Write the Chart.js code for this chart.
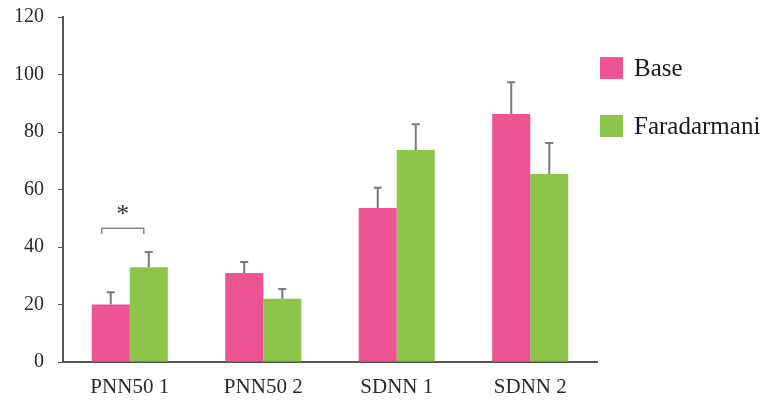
<!DOCTYPE html>
<html>
<head>
<meta charset="utf-8">
<script src="https://cdn.jsdelivr.net/npm/chart.js@4.4.0/dist/chart.umd.min.js"></script>
<style>
  html, body { margin: 0; padding: 0; background: #ffffff; }
  #wrap { position: relative; width: 780px; height: 401px; }
  #legend { position: absolute; left: 600px; top: 54px; font-family: "Liberation Serif", serif; font-size: 25px; color: #1a1a1a; }
  #legend .item { display: flex; align-items: center; height: 28px; margin-bottom: 30px; }
  #legend .box { width: 23px; height: 22px; margin-right: 11px; }
</style>
</head>
<body>
<div id="wrap">
  <canvas id="chart" width="780" height="401"></canvas>
  <div id="legend"></div>
</div>
<script>
// données
const categories = ['PNN50 1', 'PNN50 2', 'SDNN 1', 'SDNN 2'];
const seriesNames = ['Base', 'Faradarmani'];
const baseValues = [20, 31, 53.6, 86.3];
const faradValues = [33, 22, 73.7, 65.4];
const baseErrors = [4.3, 3.8, 7, 11];
const faradErrors = [5.3, 3.4, 9, 10.8];
const yTicks = [0, 20, 40, 60, 80, 100, 120];

const PINK = '#ec5494';
const GREEN = '#8cc54a';

// barres d'erreur (moitié haute seulement)
const errorBars = {
    id: 'errorBars',
    afterDatasetsDraw(chart) {
        const ctx = chart.ctx;
        const y = chart.scales.y;
        const errs = [baseErrors, faradErrors];
        ctx.save();
        ctx.strokeStyle = '#7a7a7a';
        ctx.lineWidth = 2;
        chart.data.datasets.forEach((ds, i) => {
            chart.getDatasetMeta(i).data.forEach((bar, j) => {
                const top = y.getPixelForValue(ds.data[j] + errs[i][j]);
                ctx.beginPath();
                ctx.moveTo(bar.x, bar.y);
                ctx.lineTo(bar.x, top);
                ctx.moveTo(bar.x - 4, top);
                ctx.lineTo(bar.x + 4, top);
                ctx.stroke();
            });
        });
        ctx.restore();
    }
};

// crochet de significativité sur PNN50 1
const significance = {
    id: 'significance',
    afterDatasetsDraw(chart) {
        const ctx = chart.ctx;
        const y = chart.scales.y;
        const b0 = chart.getDatasetMeta(0).data[0];
        const b1 = chart.getDatasetMeta(1).data[0];
        const left = b0.x - 9;
        const right = b1.x - 5;
        const top = y.getPixelForValue(46.5);
        const bottom = y.getPixelForValue(44.5);
        ctx.save();
        ctx.strokeStyle = '#8a8a8a';
        ctx.lineWidth = 1.5;
        ctx.beginPath();
        ctx.moveTo(left, bottom);
        ctx.lineTo(left, top);
        ctx.lineTo(right, top);
        ctx.lineTo(right, bottom);
        ctx.stroke();
        ctx.fillStyle = '#333';
        ctx.font = '26px "Liberation Serif"';
        ctx.textAlign = 'center';
        ctx.textBaseline = 'middle';
        ctx.fillText('*', (left + right) / 2, y.getPixelForValue(51));
        ctx.restore();
    }
};

new Chart(document.getElementById('chart'), {
    type: 'bar',
    data: {
        labels: categories,
        datasets: [
            { label: seriesNames[0], data: baseValues, backgroundColor: PINK },
            { label: seriesNames[1], data: faradValues, backgroundColor: GREEN }
        ]
    },
    options: {
        responsive: false,
        animation: false,
        layout: { padding: { top: 17, right: 183, left: 0, bottom: 0 } },
        datasets: { bar: { barPercentage: 1, categoryPercentage: 0.57 } },
        plugins: { legend: { display: false }, tooltip: { enabled: false } },
        scales: {
            x: {
                grid: { display: false },
                border: { display: true, color: '#555', width: 2 },
                afterFit: (scale) => { scale.height = 39; },
                ticks: { color: '#2a2a2a', font: { family: 'Liberation Serif', size: 21 }, padding: 5 }
            },
            y: {
                min: 0,
                max: 120,
                afterBuildTicks: (scale) => { scale.ticks = yTicks.map(v => ({ value: v })); },
                afterFit: (scale) => {
                    scale.width = 63;
                    scale.paddingTop = 0;
                    scale.paddingBottom = 0;
                },
                grid: { drawOnChartArea: false, drawTicks: true, tickLength: 5, color: '#555' },
                border: { display: true, color: '#555', width: 2 },
                ticks: { color: '#2a2a2a', font: { family: 'Liberation Serif', size: 20 }, padding: 14 }
            }
        }
    },
    plugins: [errorBars, significance]
});

// légende HTML
const legendEl = document.getElementById('legend');
[[seriesNames[0], PINK], [seriesNames[1], GREEN]].forEach(([name, color]) => {
    const item = document.createElement('div');
    item.className = 'item';
    item.innerHTML = '<span class="box" style="background:' + color + '"></span><span>' + name + '</span>';
    legendEl.appendChild(item);
});
</script>
</body>
</html>
